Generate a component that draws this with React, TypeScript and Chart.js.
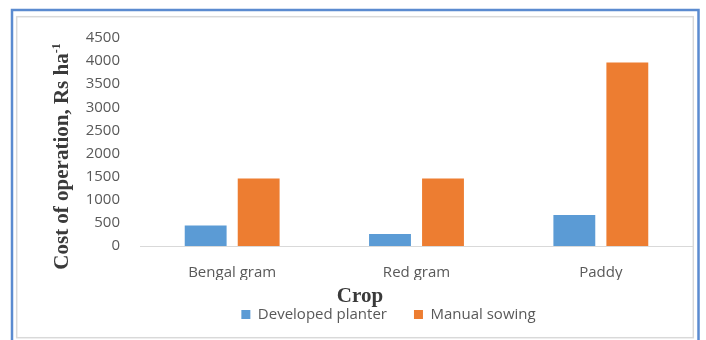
import React, { useEffect, useRef } from "react";
import { Chart, registerables } from "chart.js";

Chart.register(...registerables);

const categories = ["Bengal gram", "Red gram", "Paddy"];
const seriesNames = ["Developed planter", "Manual sowing"];
const developedPlanter = [445, 260, 670];
const manualSowing = [1460, 1460, 3970];
const yMin = 0;
const yMax = 4500;
const yStep = 500;
const yTitle = "Cost of operation, Rs ha";
const yTitleSup = "-1";
const xTitle = "Crop";

const TICK_COLOR = "#595959";
const TICK_FONT = { family: "'Open Sans', sans-serif", size: 15 };

export default function App() {
  const ref = useRef<HTMLCanvasElement>(null);

  useEffect(() => {
    document.body.style.margin = "0";
    const canvas = ref.current!;

    const framePlugin = {
      id: "frame",
      beforeDraw(chart: any) {
        const ctx = chart.ctx as CanvasRenderingContext2D;
        ctx.save();
        ctx.fillStyle = "#ffffff";
        ctx.fillRect(0, 0, chart.width, chart.height);
        ctx.strokeStyle = "#5b8bd0";
        ctx.lineWidth = 2.5;
        ctx.strokeRect(12, 10, 686.5, 345);
        ctx.strokeStyle = "#d9d9d9";
        ctx.lineWidth = 1.5;
        ctx.strokeRect(16.7, 16.7, 676.6, 321);
        ctx.restore();
      },
      afterDraw(chart: any) {
        const ctx = chart.ctx as CanvasRenderingContext2D;
        ctx.save();
        ctx.fillStyle = "#3a3a3a";
        const mainFont = "bold 21px 'Liberation Serif', serif";
        const supFont = "bold 12px 'Liberation Serif', serif";
        ctx.font = mainFont;
        const w = ctx.measureText(yTitle).width;
        ctx.font = supFont;
        const ws = ctx.measureText(yTitleSup).width;
        const total = w + ws;
        ctx.translate(63, 156.5);
        ctx.rotate(-Math.PI / 2);
        ctx.textBaseline = "middle";
        ctx.textAlign = "left";
        ctx.font = mainFont;
        ctx.fillText(yTitle, -total / 2, 0);
        ctx.font = supFont;
        ctx.fillText(yTitleSup, -total / 2 + w, -6);
        ctx.setTransform(1, 0, 0, 1, 0, 0);
        ctx.font = mainFont;
        ctx.textAlign = "center";
        ctx.textBaseline = "middle";
        ctx.fillText(xTitle, 360, 297);
        ctx.restore();
      },
    };

    const chart = new Chart(canvas, {
      type: "bar",
      data: {
        labels: categories,
        datasets: [
          {
            label: seriesNames[0],
            data: developedPlanter,
            backgroundColor: "#5b9bd5",
            borderWidth: 0,
            categoryPercentage: 0.575,
            barPercentage: 0.79,
          },
          {
            label: seriesNames[1],
            data: manualSowing,
            backgroundColor: "#ed7d31",
            borderWidth: 0,
            categoryPercentage: 0.575,
            barPercentage: 0.79,
          },
        ],
      },
      options: {
        responsive: false,
        animation: false,
        devicePixelRatio: 1,
        layout: { padding: { left: 84, right: 13, top: 38, bottom: 8 } },
        plugins: {
          legend: {
            position: "bottom",
            labels: {
              boxWidth: 9,
              boxHeight: 9,
              padding: 27,
              color: TICK_COLOR,
              font: TICK_FONT,
            },
          },
          tooltip: { enabled: false },
          title: { display: false },
        },
        scales: {
          x: {
            grid: { display: false, drawTicks: false },
            border: { display: true, color: "#d9d9d9", width: 1 },
            ticks: { color: TICK_COLOR, font: TICK_FONT, padding: 18, maxRotation: 0 },
            afterFit: (s: any) => {
              s.height = 34;
            },
          },
          y: {
            min: yMin,
            max: yMax,
            grid: { display: false, drawTicks: false },
            border: { display: false },
            ticks: {
              stepSize: yStep,
              padding: 20,
              color: TICK_COLOR,
              font: TICK_FONT,
              callback: (v: any) => String(v),
            },
            afterFit: (s: any) => {
              s.width = 56;
            },
          },
        },
      },
      plugins: [framePlugin],
    });

    return () => chart.destroy();
  }, []);

  return (
    <div style={{ width: 706, height: 340 }}>
      <canvas ref={ref} width={706} height={340} style={{ display: "block" }} />
    </div>
  );
}
